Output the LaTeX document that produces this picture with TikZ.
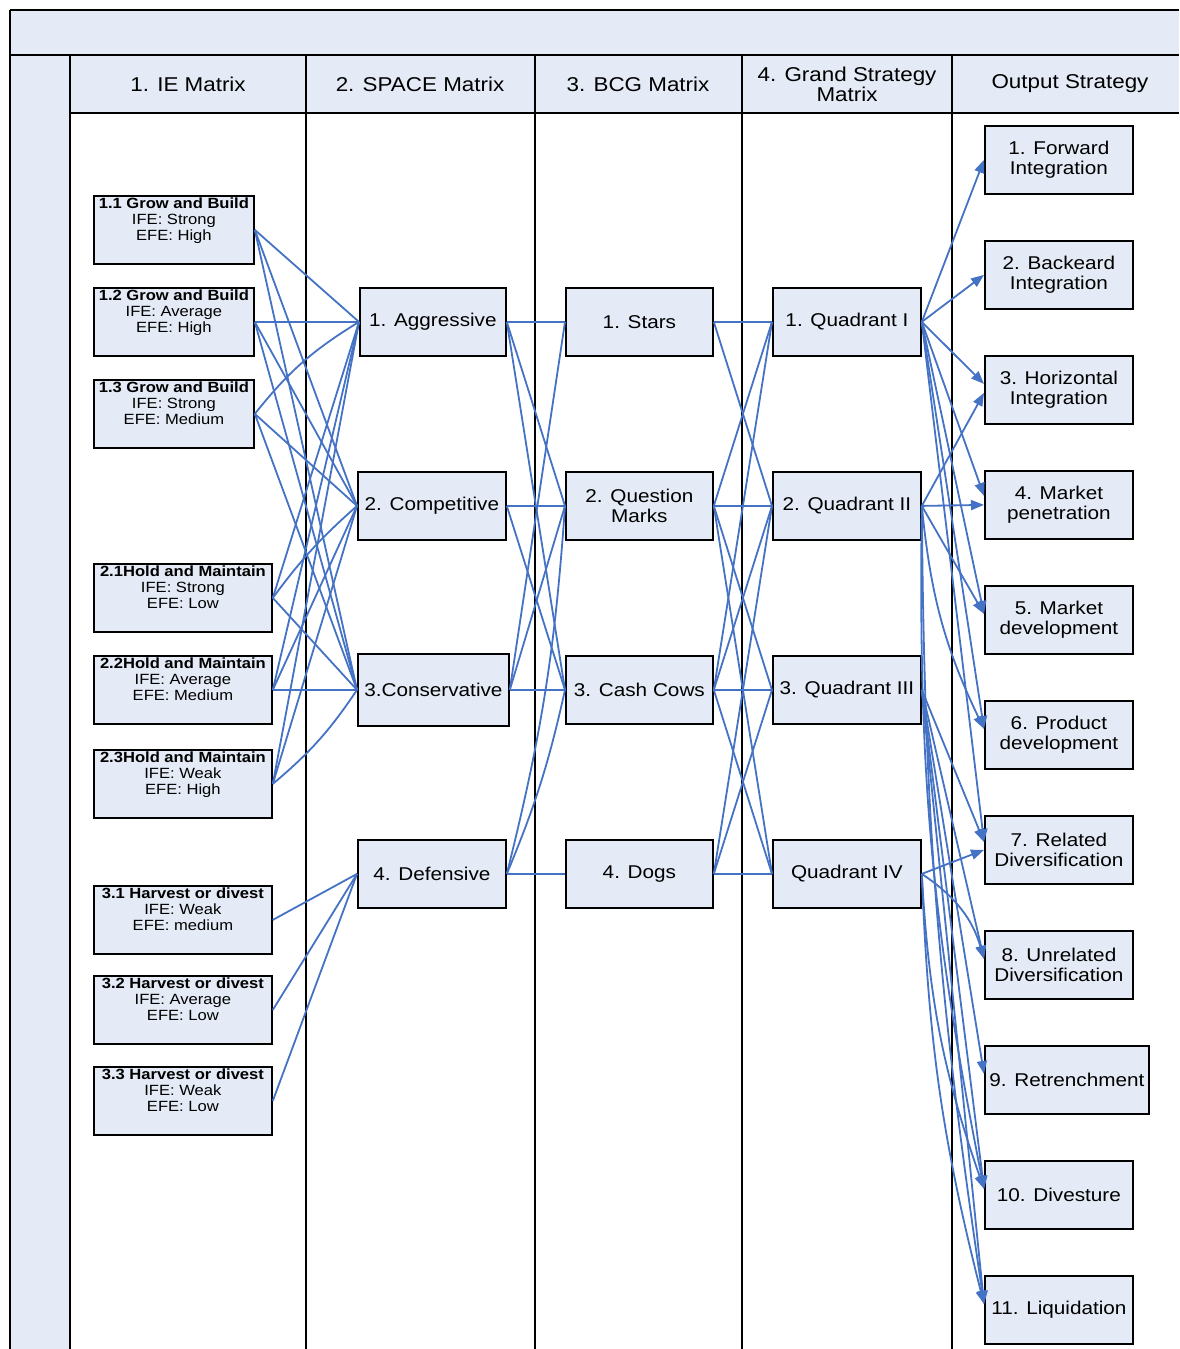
\documentclass[tikz,border=0pt]{standalone}
\usepackage{fontspec}
\setmainfont[FakeStretch=1.12]{Liberation Sans}
\usetikzlibrary{arrows.meta}
\definecolor{boxfill}{RGB}{228,235,246}
\definecolor{linkblue}{RGB}{68,114,196}
\begin{document}
\begin{tikzpicture}[x=1pt,y=-1pt,
 box/.style={draw=black,line width=1.8pt,fill=boxfill,inner sep=0pt,anchor=north west,align=center,font=\fontsize{18.5}{19.5}\selectfont},
 ietxt/.style={anchor=north,align=center,inner sep=0pt,font=\fontsize{14.8}{16}\selectfont},
 hdr/.style={align=center,font=\fontsize{20}{20}\selectfont,inner sep=0pt},
 link/.style={draw=linkblue,line width=1.8pt},
 arr/.style={link,-{Triangle[length=13pt,width=10pt]}},
 gridline/.style={draw=black,line width=2.5pt}]
\useasboundingbox (0,0) rectangle (1179,1349);
% table background
\fill[boxfill] (10,10) rectangle (1179,55);
\fill[boxfill] (10,55) rectangle (70,1349);
\fill[boxfill] (70,55) rectangle (1179,113);
\draw[gridline] (10,10) -- (1179,10);
\draw[gridline] (10,55) -- (1179,55);
\draw[gridline] (70,113) -- (1179,113);
\draw[gridline] (10,10) -- (10,1349);
\foreach \xx in {70,306,535,742,952} \draw[gridline] (\xx,55) -- (\xx,1349);
% headers
\node[hdr] (h1) at (188,84) {1. IE Matrix};
\node[hdr] (h2) at (420,84) {2. SPACE Matrix};
\node[hdr] (h3) at (638,84) {3. BCG Matrix};
\node[hdr] (h4) at (847,84) {4. Grand Strategy\\Matrix};
\node[hdr] (h5) at (1070,84) {Output Strategy};
% IE boxes
\node[box,minimum width=160pt,minimum height=68pt] (ie11) at (93,195) {};
\node[ietxt] (ie11t) at ([yshift=-3pt]ie11.north) {\textbf{1.1 Grow and Build}\\IFE: Strong\\EFE: High};
\node[box,minimum width=160pt,minimum height=68pt] (ie12) at (93,287) {};
\node[ietxt] (ie12t) at ([yshift=-3pt]ie12.north) {\textbf{1.2 Grow and Build}\\IFE: Average\\EFE: High};
\node[box,minimum width=160pt,minimum height=68pt] (ie13) at (93,379) {};
\node[ietxt] (ie13t) at ([yshift=-3pt]ie13.north) {\textbf{1.3 Grow and Build}\\IFE: Strong\\EFE: Medium};
\node[box,minimum width=178pt,minimum height=68pt] (ie21) at (93,563) {};
\node[ietxt] (ie21t) at ([yshift=-3pt]ie21.north) {\textbf{2.1Hold and Maintain}\\IFE: Strong\\EFE: Low};
\node[box,minimum width=178pt,minimum height=68pt] (ie22) at (93,655) {};
\node[ietxt] (ie22t) at ([yshift=-3pt]ie22.north) {\textbf{2.2Hold and Maintain}\\IFE: Average\\EFE: Medium};
\node[box,minimum width=178pt,minimum height=68pt] (ie23) at (93,749) {};
\node[ietxt] (ie23t) at ([yshift=-3pt]ie23.north) {\textbf{2.3Hold and Maintain}\\IFE: Weak\\EFE: High};
\node[box,minimum width=178pt,minimum height=68pt] (ie31) at (93,885) {};
\node[ietxt] (ie31t) at ([yshift=-3pt]ie31.north) {\textbf{3.1 Harvest or divest}\\IFE: Weak\\EFE: medium};
\node[box,minimum width=178pt,minimum height=68pt] (ie32) at (93,975) {};
\node[ietxt] (ie32t) at ([yshift=-3pt]ie32.north) {\textbf{3.2 Harvest or divest}\\IFE: Average\\EFE: Low};
\node[box,minimum width=178pt,minimum height=68pt] (ie33) at (93,1066) {};
\node[ietxt] (ie33t) at ([yshift=-3pt]ie33.north) {\textbf{3.3 Harvest or divest}\\IFE: Weak\\EFE: Low};
% SPACE boxes
\node[box,minimum width=146pt,minimum height=68pt] (agg) at (359,287) {1. Aggressive};
\node[box,minimum width=148pt,minimum height=68pt] (comp) at (357,471) {2. Competitive};
\node[box,minimum width=151pt,minimum height=72pt] (cons) at (357,653) {3.Conservative};
\node[box,minimum width=148pt,minimum height=68pt] (def) at (357,839) {4. Defensive};
% BCG boxes
\node[box,minimum width=147pt,minimum height=68pt] (stars) at (565,287) {1. Stars};
\node[box,minimum width=147pt,minimum height=68pt] (qm) at (565,471) {2. Question\\Marks};
\node[box,minimum width=147pt,minimum height=68pt] (cc) at (565,655) {3. Cash Cows};
\node[box,minimum width=147pt,minimum height=68pt] (dogs) at (565,839) {4. Dogs};
% Grand strategy boxes
\node[box,minimum width=148pt,minimum height=68pt] (q1) at (772,287) {1. Quadrant I};
\node[box,minimum width=148pt,minimum height=68pt] (q2) at (772,471) {2. Quadrant II};
\node[box,minimum width=148pt,minimum height=68pt] (q3) at (772,655) {3. Quadrant III};
\node[box,minimum width=148pt,minimum height=68pt] (q4) at (772,839) {Quadrant IV};
% Output boxes
\node[box,minimum width=148pt,minimum height=68pt] (o1) at (984,125) {1. Forward\\Integration};
\node[box,minimum width=148pt,minimum height=68pt] (o2) at (984,240) {2. Backeard\\Integration};
\node[box,minimum width=148pt,minimum height=68pt] (o3) at (984,355) {3. Horizontal\\Integration};
\node[box,minimum width=148pt,minimum height=68pt] (o4) at (984,470) {4. Market\\penetration};
\node[box,minimum width=148pt,minimum height=68pt] (o5) at (984,585) {5. Market\\development};
\node[box,minimum width=148pt,minimum height=68pt] (o6) at (984,700) {6. Product\\development};
\node[box,minimum width=148pt,minimum height=68pt] (o7) at (984,815) {7. Related\\Diversification};
\node[box,minimum width=148pt,minimum height=68pt] (o8) at (984,930) {8. Unrelated\\Diversification};
\node[box,minimum width=164pt,minimum height=68pt] (o9) at (984,1045) {9. Retrenchment};
\node[box,minimum width=148pt,minimum height=68pt] (o10) at (984,1160) {10. Divesture};
\node[box,minimum width=148pt,minimum height=68pt] (o11) at (984,1275) {11. Liquidation};
% IE -> SPACE
\draw[link] (ie11.east) -- (agg.west);
\draw[link] (ie11.east) -- (comp.west);
\draw[link] (ie11.east) -- (cons.west);
\draw[link] (ie12.east) -- (agg.west);
\draw[link] (ie12.east) -- (comp.west);
\draw[link] (ie12.east) -- (cons.west);
\draw[link] (ie13.east) to[bend left=10] (agg.west);
\draw[link] (ie13.east) -- (comp.west);
\draw[link] (ie13.east) -- (cons.west);
\draw[link] (ie21.east) -- (agg.west);
\draw[link] (ie21.east) to[bend left=6] (comp.west);
\draw[link] (ie21.east) -- (cons.west);
\draw[link] (ie22.east) -- (agg.west);
\draw[link] (ie22.east) -- (comp.west);
\draw[link] (ie22.east) -- (cons.west);
\draw[link] (ie23.east) -- (agg.west);
\draw[link] (ie23.east) -- (comp.west);
\draw[link] (ie23.east) to[bend right=8] (cons.west);
\draw[link] (ie31.east) -- (def.west);
\draw[link] (ie32.east) -- (def.west);
\draw[link] (ie33.east) -- (def.west);
% SPACE -> BCG
\draw[link] (agg.east) -- (stars.west);
\draw[link] (agg.east) -- (qm.west);
\draw[link] (agg.east) -- (cc.west);
\draw[link] (comp.east) -- (qm.west);
\draw[link] (comp.east) -- (cc.west);
\draw[link] (cons.east) -- (stars.west);
\draw[link] (cons.east) -- (qm.west);
\draw[link] (cons.east) -- (cc.west);
\draw[link] (def.east) to[bend right=5] (qm.west);
\draw[link] (def.east) to[bend right=5] (cc.west);
\draw[link] (def.east) -- (dogs.west);
% BCG -> Grand
\draw[link] (stars.east) -- (q1.west);
\draw[link] (stars.east) -- (q2.west);
\draw[link] (qm.east) -- (q1.west);
\draw[link] (qm.east) -- (q2.west);
\draw[link] (qm.east) -- (q3.west);
\draw[link] (qm.east) -- (q4.west);
\draw[link] (cc.east) -- (q1.west);
\draw[link] (cc.east) -- (q2.west);
\draw[link] (cc.east) -- (q3.west);
\draw[link] (cc.east) -- (q4.west);
\draw[link] (dogs.east) -- (q2.west);
\draw[link] (dogs.east) -- (q3.west);
\draw[link] (dogs.east) -- (q4.west);
% Grand -> Output
\draw[arr] (q1.east) -- (o1.west);
\draw[arr] (q1.east) -- (o2.west);
\draw[arr] (q1.east) -- ([yshift=6pt]o3.west);
\draw[arr] (q1.east) -- ([yshift=9pt]o4.west);
\draw[arr] (q1.east) -- ([yshift=6pt]o5.west);
\draw[arr] (q1.east) -- ([yshift=6pt]o6.west);
\draw[arr] (q1.east) -- ([yshift=8pt]o7.west);
\draw[arr] (q2.east) -- ([yshift=-3pt]o3.west);
\draw[arr] (q2.east) -- (o4.west);
\draw[arr] (q2.east) -- ([yshift=6pt]o5.west);
\draw[arr] (q2.east) to[bend right=10] ([yshift=6pt]o6.west);
\draw[arr] (q2.east) to[bend right=6] ([yshift=6pt]o10.west);
\draw[arr] (q2.east) to[bend right=4] ([yshift=6pt]o11.west);
\draw[arr] (q3.east) -- ([yshift=8pt]o7.west);
\draw[arr] (q3.east) -- ([yshift=6pt]o8.west);
\draw[arr] (q3.east) -- ([yshift=6pt]o9.west);
\draw[arr] (q3.east) -- ([yshift=6pt]o10.west);
\draw[arr] (q3.east) -- ([yshift=6pt]o11.west);
\draw[arr] (q4.east) -- (o7.west);
\draw[arr] (q4.east) to[bend left=20] ([yshift=6pt]o8.west);
\draw[arr] (q4.east) to[bend right=8] ([yshift=6pt]o10.west);
\draw[arr] (q4.east) to[bend right=6] ([yshift=6pt]o11.west);
\end{tikzpicture}
\end{document}
